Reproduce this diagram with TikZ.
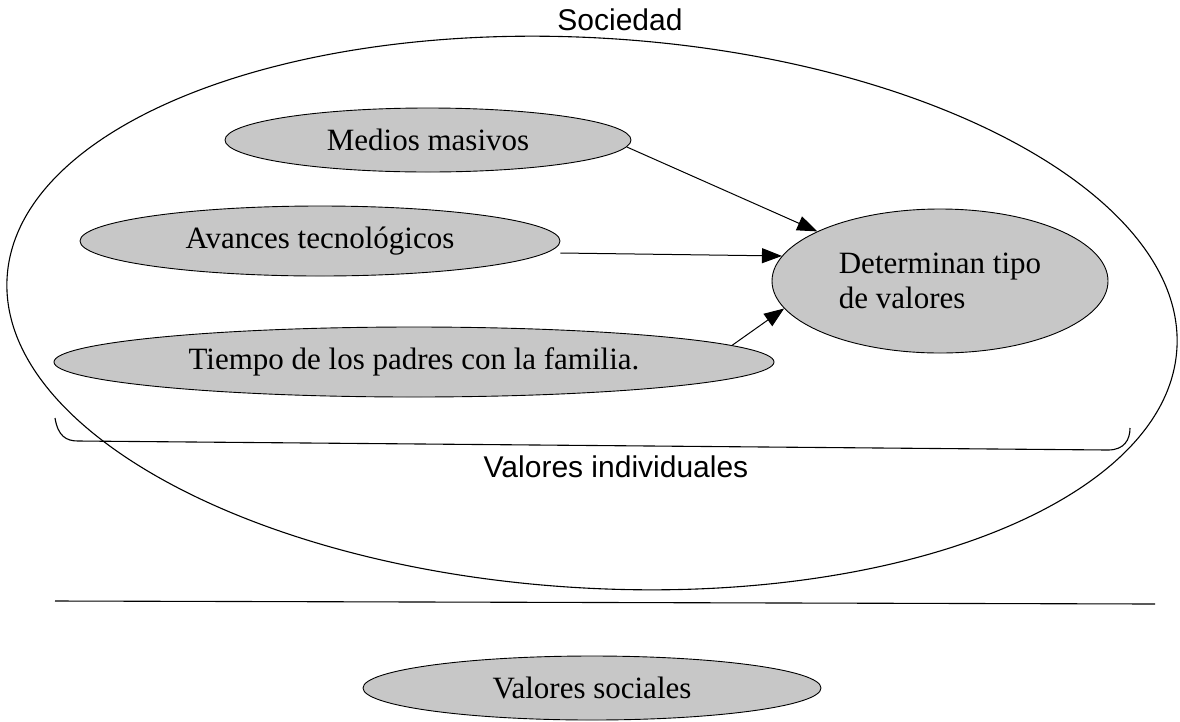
\documentclass[tikz,border=0pt]{standalone}
\usepackage{fontspec}
\setmainfont{Liberation Serif}
\newfontfamily\arialf{Liberation Sans}
\usetikzlibrary{shapes.geometric,arrows.meta,calc}
\tikzset{
  bubble/.style={draw=black, line width=0.9pt, fill=black!22, ellipse, inner sep=0pt,
    font=\fontsize{31}{35}\selectfont},
  conn/.style={draw=black, line width=1pt, -{Triangle[length=20pt,width=15pt]}},
  plain/.style={draw=black, line width=1.1pt},
  lbl/.style={inner sep=0pt, font=\arialf\fontsize{30}{34}\selectfont}
}
\begin{document}
\begin{tikzpicture}[x=1pt,y=-1pt]
\useasboundingbox (0,0) rectangle (1180,721);
% container
\node[plain, ellipse, minimum width=1172pt, minimum height=550pt, rotate=-3.5] (soc) at (592,313) {};
\node[lbl] (socl) at (620,20) {Sociedad};
% bubbles
\node[bubble, minimum width=406pt, minimum height=64pt] (mm) at (428,140) {Medios masivos};
\node[bubble, minimum width=480pt, minimum height=70pt] (av) at (320,241) {Avances tecnológicos};
\node[bubble, minimum width=720pt, minimum height=70pt] (tp) at (414,362) {Tiempo de los padres con la familia.};
\node[bubble, minimum width=336pt, minimum height=144pt, align=left] (det) at (940,281) {Determinan tipo\\de valores};
\node[bubble, minimum width=458pt, minimum height=64pt] (vs) at (592,688) {Valores sociales};
% connectors
\draw[conn] (mm.-2) -- (det.158);
\draw[conn] ($(av.east)+(0,12)$) -- (det.171);
\draw[conn] (tp.3) -- (det.190);
% line with curled ends
\coordinate (cl) at (55,418);
\coordinate (cr) at (1130,428);
\draw[plain] (cl) .. controls (58,436) and (66,441) .. (78,441) -- (1108,450) .. controls (1124,450) and (1130,440) .. (cr);
\node[lbl] (vi) at (616,467) {Valores individuales};
% separator
\coordinate (sl) at (55,601);
\coordinate (sr) at (1155,604);
\draw[plain] (sl) -- (sr);
\end{tikzpicture}
\end{document}
